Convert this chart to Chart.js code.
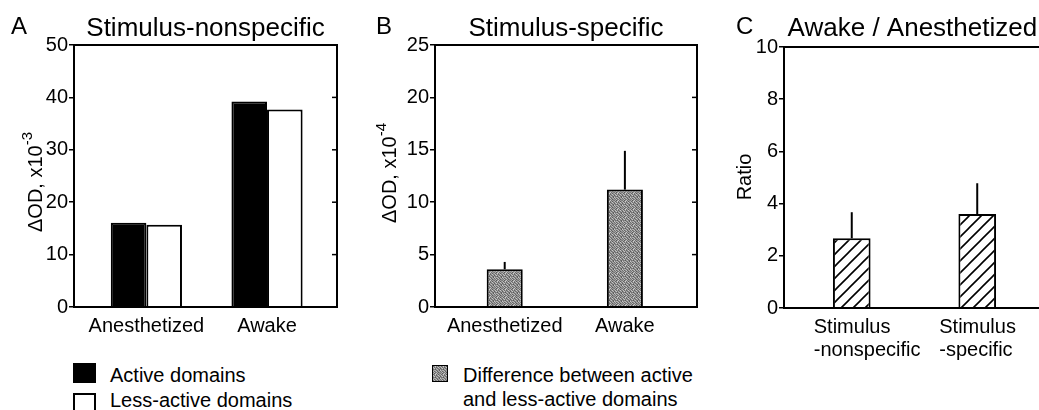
<!DOCTYPE html>
<html>
<head>
<meta charset="utf-8">
<script src="https://cdn.jsdelivr.net/npm/chart.js@4/dist/chart.umd.min.js"></script>
<style>
  html,body{margin:0;padding:0;background:#fff;overflow:hidden;}
  body{width:1039px;height:410px;position:relative;font-family:'Liberation Sans',Arial,sans-serif;color:#000;}
  .pane{position:absolute;top:0;}
  .lg{position:absolute;font-size:20px;line-height:24px;white-space:nowrap;}
  .sw{position:absolute;box-sizing:border-box;}
</style>
</head>
<body>
<div class="pane" style="left:0;width:345px;height:350px"><canvas id="cA"></canvas></div>
<div class="pane" style="left:350px;width:360px;height:350px"><canvas id="cB"></canvas></div>
<div class="pane" style="left:705px;width:350px;height:372px"><canvas id="cC"></canvas></div>

<div class="sw" style="left:73px;top:363px;width:23px;height:20px;background:#000"></div>
<div class="lg" style="left:110px;top:363px">Active domains</div>
<div class="sw" style="left:73px;top:393px;width:23px;height:20px;border:2px solid #000;background:#fff"></div>
<div class="lg" style="left:110px;top:388px">Less-active domains</div>

<canvas id="swB" class="sw" width="16" height="17" style="left:432px;top:365px;width:16px;height:17px"></canvas>
<div class="lg" style="left:463px;top:363px">Difference between active<br>and less-active domains</div>

<script>
// panel A: stimulus-nonspecific, ΔOD x10^-3
const catsAB = ['Anesthetized', 'Awake'];
const activeA = [16.1, 39.2];
const lessA = [15.7, 37.7];
const ticksA = [0, 10, 20, 30, 40, 50];

// panel B: stimulus-specific, ΔOD x10^-4
const diffB = [3.6, 11.2];
const semB = [0.7, 3.7];
const ticksB = [0, 5, 10, 15, 20, 25];

// panel C: awake / anesthetized ratio
const catsC = [['Stimulus', '-nonspecific'], ['Stimulus', '-specific']];
const ratioC = [2.67, 3.6];
const semC = [1.0, 1.18];
const ticksC = [0, 2, 4, 6, 8, 10];

const FONT = "'Liberation Sans', Arial, sans-serif";

// stipple fill for panel B bars
function stipple(){
  const grays = [
    [120,170,90,150,200,110,160,130],
    [180,100,140,210,120,170,90,150],
    [130,190,110,160,100,140,200,120],
    [90,150,200,120,170,110,130,180],
    [160,110,130,90,150,190,120,100],
    [200,140,170,180,110,130,160,90],
    [110,180,100,140,190,100,150,170],
    [150,120,190,110,130,170,90,140]];
  const c = document.createElement('canvas'); c.width = 8; c.height = 8;
  const x = c.getContext('2d');
  grays.forEach((row, j) => row.forEach((g, i) => { x.fillStyle = `rgb(${g},${g},${g})`; x.fillRect(i, j, 1, 1); }));
  return x.createPattern(c, 'repeat');
}
function hatch(){
  const c = document.createElement('canvas'); c.width = 12; c.height = 12;
  const x = c.getContext('2d');
  x.fillStyle = '#fff'; x.fillRect(0, 0, 12, 12);
  x.strokeStyle = '#000'; x.lineWidth = 1.6;
  x.beginPath();
  x.moveTo(-2, 14); x.lineTo(14, -2);
  x.moveTo(-8, 8); x.lineTo(8, -8);
  x.moveTo(4, 20); x.lineTo(20, 4);
  x.stroke();
  return x.createPattern(c, 'repeat');
}

const panelDeco = {
  id: 'panelDeco',
  afterDatasetsDraw(chart, args, o){
    const {ctx, chartArea: a, scales} = chart;
    ctx.save();
    // error bars (upward only)
    chart.data.datasets.forEach((ds, di) => {
      if (!ds.sem) return;
      chart.getDatasetMeta(di).data.forEach((bar, i) => {
        const yTop = scales.y.getPixelForValue(ds.data[i].y + ds.sem[i]);
        ctx.strokeStyle = '#000'; ctx.lineWidth = 2;
        ctx.beginPath(); ctx.moveTo(bar.x, bar.y); ctx.lineTo(bar.x, yTop); ctx.stroke();
      });
    });
    // frame + inward right ticks
    ctx.strokeStyle = '#000'; ctx.lineWidth = 2;
    ctx.strokeRect(a.left, a.top, a.right - a.left, a.bottom - a.top);
    ctx.lineWidth = 1.5;
    scales.y.ticks.forEach(t => {
      const y = scales.y.getPixelForValue(t.value);
      ctx.beginPath(); ctx.moveTo(a.right, y); ctx.lineTo(a.right - 5, y); ctx.stroke();
    });
    // panel letter and title
    ctx.fillStyle = '#000';
    ctx.textBaseline = 'alphabetic';
    ctx.font = `24px ${FONT}`; ctx.textAlign = 'left';
    ctx.fillText(o.letter, o.letterX, 34);
    ctx.font = `26px ${FONT}`; ctx.textAlign = 'center';
    ctx.fillText(o.title, (a.left + a.right) / 2 + (o.titleDx || 0), 36);
    // y title with superscript
    ctx.translate(o.ytX, o.ytY); ctx.rotate(-Math.PI / 2);
    ctx.font = `20px ${FONT}`;
    const w1 = ctx.measureText(o.ytBase).width;
    ctx.font = `15px ${FONT}`;
    const w2 = o.ytSup ? ctx.measureText(o.ytSup).width : 0;
    ctx.textAlign = 'left'; ctx.textBaseline = 'middle';
    ctx.font = `20px ${FONT}`;
    ctx.fillText(o.ytBase, -(w1 + w2) / 2, 0);
    if (o.ytSup){ ctx.font = `15px ${FONT}`; ctx.fillText(o.ytSup, -(w1 + w2) / 2 + w1, -8); }
    ctx.restore();
  }
};

function makeChart(id, cfg){
  const cats = cfg.cats;
  return new Chart(document.getElementById(id), {
    type: 'bar',
    data: {datasets: cfg.datasets},
    options: {
      responsive: true, maintainAspectRatio: false, animation: false,
      layout: {padding: {top: cfg.top, right: cfg.right, left: 0, bottom: 0}},
      plugins: {legend: {display: false}, tooltip: {enabled: false}, panelDeco: cfg.deco},
      scales: {
        x: {
          type: 'linear', min: cfg.xMin, max: cfg.xMax, offset: false,
          grid: {display: false}, border: {display: false},
          afterBuildTicks: s => { s.ticks = cats.map((_, i) => ({value: i})); },
          afterFit: s => { s.height = cfg.xH; },
          ticks: {color: '#000', font: {family: FONT, size: 20, lineHeight: 1.15}, padding: 0, maxRotation: 0, autoSkip: false,
                  align: cfg.xAlign || 'center', labelOffset: cfg.xLabelOffset || 0,
                  callback: v => cats[v]}
        },
        y: {
          min: cfg.yTicks[0], max: cfg.yTicks[cfg.yTicks.length - 1],
          afterBuildTicks: s => { s.ticks = cfg.yTicks.map(v => ({value: v})); },
          afterFit: s => { s.width = cfg.yW; },
          grid: {drawOnChartArea: false, drawTicks: true, tickLength: 5, color: '#000', lineWidth: 1.5},
          border: {display: false},
          ticks: {color: '#000', font: {family: FONT, size: 20}, padding: 1}
        }
      }
    },
    plugins: [panelDeco]
  });
}

const pts = arr => arr.map((v, i) => ({x: i, y: v}));

makeChart('cA', {
  cats: catsAB, top: 45, right: 8, yW: 74, xH: 43, xMin: -0.6, xMax: 1.58, yTicks: ticksA,
  datasets: [
    {data: pts(activeA), backgroundColor: '#000', borderColor: '#000', borderWidth: 2, categoryPercentage: 0.59, barPercentage: 1},
    {data: pts(lessA), backgroundColor: '#fff', borderColor: '#000', borderWidth: 2, categoryPercentage: 0.59, barPercentage: 1}
  ],
  deco: {letter: 'A', letterX: 11, title: 'Stimulus-nonspecific', ytBase: 'ΔOD, x10', ytSup: '-3', ytX: 36, ytY: 182}
});

makeChart('cB', {
  cats: catsAB, top: 45, right: 13, yW: 85, xH: 43, xMin: -0.58, xMax: 1.6, yTicks: ticksB,
  datasets: [
    {data: pts(diffB), sem: semB, backgroundColor: stipple(), borderColor: '#000', borderWidth: 2, categoryPercentage: 0.3, barPercentage: 1}
  ],
  deco: {letter: 'B', letterX: 26, title: 'Stimulus-specific', ytBase: 'ΔOD, x10', ytSup: '-4', ytX: 40, ytY: 173}
});

makeChart('cC', {
  cats: catsC, top: 47, right: 4, yW: 79, xH: 64, xMin: -0.54, xMax: 1.57, yTicks: ticksC,
  xAlign: 'start', xLabelOffset: -38,
  datasets: [
    {data: pts(ratioC), sem: semC, backgroundColor: hatch(), borderColor: '#000', borderWidth: 2, categoryPercentage: 0.3, barPercentage: 1}
  ],
  deco: {letter: 'C', letterX: 31, title: 'Awake / Anesthetized', titleDx: -4, ytBase: 'Ratio', ytSup: '', ytX: 40, ytY: 177}
});

// legend swatch for panel B
(() => {
  const c = document.getElementById('swB'), x = c.getContext('2d');
  x.fillStyle = stipple(); x.fillRect(0, 0, 16, 17);
  x.strokeStyle = '#000'; x.lineWidth = 1; x.strokeRect(0.5, 0.5, 15, 16);
})();
</script>
</body>
</html>
